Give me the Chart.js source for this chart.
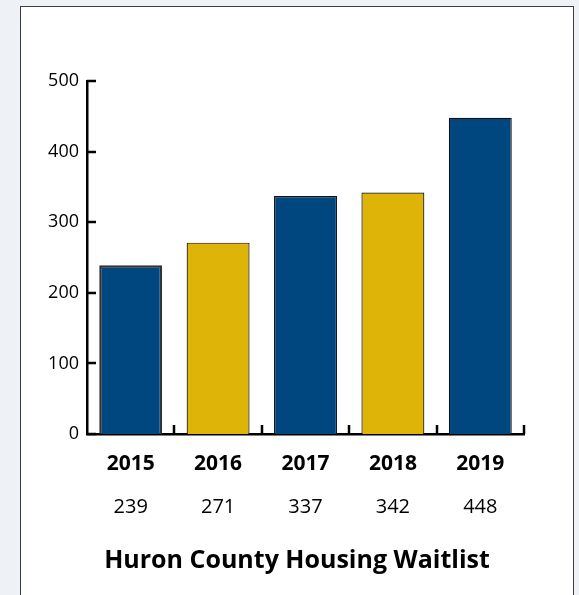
<!DOCTYPE html>
<html>
<head>
<meta charset="utf-8">
<script src="https://cdn.jsdelivr.net/npm/chart.js@4.4.1/dist/chart.umd.min.js"></script>
<style>
  html, body { margin: 0; padding: 0; background: #eef2f7; width: 579px; height: 595px; overflow: hidden; }
  #panel { position: absolute; left: 20px; top: 6px; width: 554px; height: 600px; background: #fff; border: 1px solid #3c3c3c; box-sizing: border-box; }
  #wrap { position: absolute; left: 0; top: 0; width: 579px; height: 595px; }
</style>
</head>
<body>
<div id="panel"></div>
<div id="wrap"><canvas id="c" width="579" height="595"></canvas></div>
<script>
const years = ['2015', '2016', '2017', '2018', '2019'];
const waitlist = [239, 271, 337, 342, 448];
const valueLabels = ['239', '271', '337', '342', '448'];
const chartTitle = 'Huron County Housing Waitlist';

const FONT = "'Open Sans', 'Noto Sans', sans-serif";
const BLUE = '#00467f';
const YELLOW = '#deb408';

const innerTicks = {
  id: 'innerTicks',
  afterDraw(chart) {
    const ctx = chart.ctx;
    const area = chart.chartArea;
    const ys = chart.scales.y;
    const xs = chart.scales.x;
    ctx.save();
    ctx.strokeStyle = '#000';
    ctx.lineWidth = 2.5;
    ctx.beginPath();
    ys.ticks.forEach((t, i) => {
      const y = Math.round(ys.getPixelForTick(i));
      ctx.moveTo(area.left, y);
      ctx.lineTo(area.left + 9, y);
    });
    const half = (xs.getPixelForValue(1) - xs.getPixelForValue(0)) / 2;
    for (let i = 0; i < years.length; i++) {
      const x = Math.round(xs.getPixelForValue(i) + half);
      ctx.moveTo(x, area.bottom);
      ctx.lineTo(x, area.bottom - 9);
    }
    ctx.stroke();
    ctx.restore();
  }
};

new Chart(document.getElementById('c'), {
  type: 'bar',
  data: {
    labels: years,
    datasets: [{
      data: waitlist,
      xAxisID: 'x',
      yAxisID: 'y',
      backgroundColor: [BLUE, YELLOW, BLUE, YELLOW, BLUE],
      borderColor: ['#333333', '#111', '#111', '#111', '#111'],
      borderWidth: [2.5, 1.2, 1.2, 1.2, 1.2],
      barPercentage: 0.8,
      categoryPercentage: 0.9
    }]
  },
  options: {
    responsive: false,
    animation: false,
    devicePixelRatio: 1,
    layout: { padding: { left: 15, right: 0, top: 81, bottom: 19 } },
    plugins: {
      legend: { display: false },
      tooltip: { enabled: false },
      title: {
        display: true,
        position: 'bottom',
        text: chartTitle,
        color: '#000',
        font: { family: FONT, size: 25, weight: 'bold' },
        padding: { top: 17, bottom: 0 }
      }
    },
    scales: {
      y: {
        min: 0, max: 500,
        ticks: { stepSize: 100, color: '#000', font: { family: FONT, size: 18 }, padding: 8 },
        grid: { display: false, drawTicks: false },
        border: { display: true, color: '#000', width: 2.5 },
        afterFit(s) { s.width = 72; }
      },
      yr: {
        type: 'linear',
        position: 'right',
        display: true,
        ticks: { display: false },
        grid: { display: false, drawTicks: false },
        border: { display: false },
        afterFit(s) { s.width = 55; }
      },
      x: {
        type: 'category',
        position: 'bottom',
        offset: true,
        ticks: { color: '#000', font: { family: FONT, size: 21, weight: 'bold' }, padding: 17, maxRotation: 0, autoSkip: false },
        grid: { display: false, drawTicks: false },
        border: { display: true, color: '#000', width: 2.5 },
        afterFit(s) { s.height = 50; }
      },
      x2: {
        type: 'category',
        position: 'bottom',
        labels: valueLabels,
        offset: true,
        ticks: { color: '#000', font: { family: FONT, size: 20 }, padding: 11, maxRotation: 0, autoSkip: false },
        grid: { display: false, drawTicks: false },
        border: { display: false },
        afterFit(s) { s.height = 45; }
      }
    }
  },
  plugins: [innerTicks]
});
</script>
</body>
</html>
